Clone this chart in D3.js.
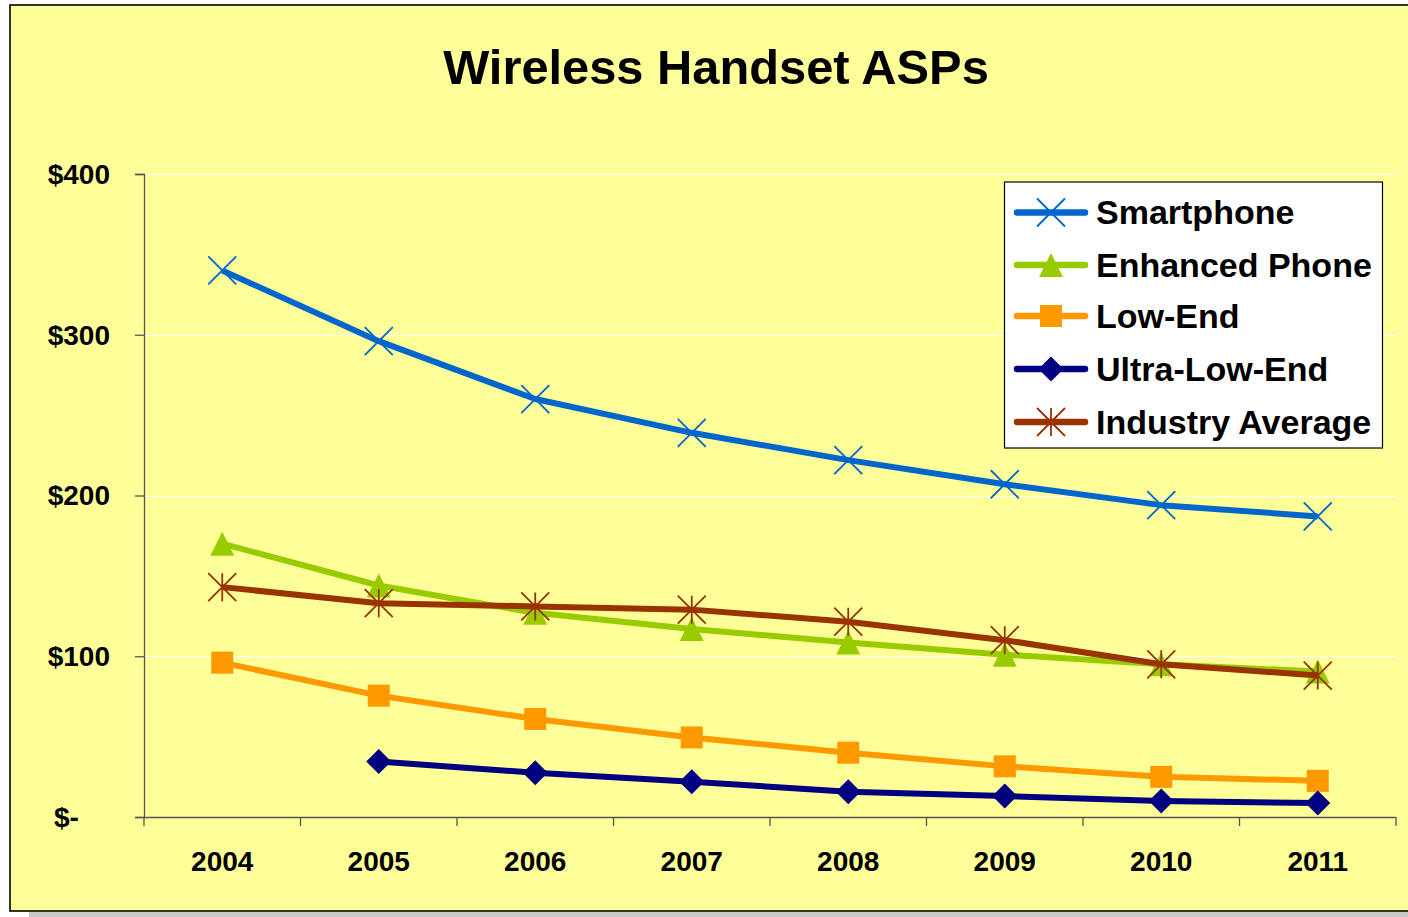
<!DOCTYPE html>
<html>
<head>
<meta charset="utf-8">
<script src="https://cdn.jsdelivr.net/npm/d3@7"></script>
<style>
  html, body { margin: 0; padding: 0; background: #ffffff; }
  svg { display: block; }
  text { font-family: "Liberation Sans", Arial, Helvetica, sans-serif; font-weight: bold; fill: #000; }
</style>
</head>
<body>
<svg id="chart" width="1408" height="917"></svg>
<script>
// Average selling prices by handset tier, US dollars
const years = ["2004", "2005", "2006", "2007", "2008", "2009", "2010", "2011"];
const smartphone    = [340, 296, 260, 239, 222, 207, 194, 187];
const enhancedPhone = [170, 144, 127, 117, 108.5, 101, 95, 90.5];
const lowEnd        = [96, 75.5, 61, 49.5, 40, 31.5, 25, 22.5];
const ultraLowEnd   = [null, 34.5, 27.5, 22, 15.7, 13, 10, 8.7];
const industryAvg   = [143, 133, 131, 129, 121.5, 110, 95, 88];
const yTicks = [0, 100, 200, 300, 400];
const yTickLabels = ["$-", "$100", "$200", "$300", "$400"];
const seriesNames = ["Smartphone", "Enhanced Phone", "Low-End", "Ultra-Low-End", "Industry Average"];

const series = [
  { name: seriesNames[0], values: smartphone,    color: "#0066CC", marker: "x" },
  { name: seriesNames[1], values: enhancedPhone, color: "#99CC00", marker: "triangle" },
  { name: seriesNames[2], values: lowEnd,        color: "#FF9900", marker: "square" },
  { name: seriesNames[3], values: ultraLowEnd,   color: "#000080", marker: "diamond" },
  { name: seriesNames[4], values: industryAvg,   color: "#993300", marker: "star" }
];
// drawing order: later ones on top
const drawOrder = [0, 1, 4, 2, 3];

const svg = d3.select("#chart");

// outer chart frame with drop shadow
svg.append("rect").attr("x", 29).attr("y", 912).attr("width", 1400).attr("height", 6).attr("fill", "#c8c8c8");
svg.append("rect").attr("x", 10).attr("y", 5).attr("width", 1420).attr("height", 906)
  .attr("fill", "#FFFF99").attr("stroke", "#000").attr("stroke-width", 1.6);

// title
svg.append("text").attr("x", 716).attr("y", 84).attr("text-anchor", "middle")
  .style("font-size", "48.8px").text("Wireless Handset ASPs");

const plot = { left: 144, right: 1396, top: 174, bottom: 817 };

const x = d3.scaleBand().domain(years).range([plot.left, plot.right]);
const y = d3.scaleLinear().domain([0, 400]).range([plot.bottom, plot.top]);

// horizontal gridlines
svg.append("g").selectAll("line").data(yTicks.filter(d => d > 0)).join("line")
  .attr("x1", plot.left).attr("x2", plot.right)
  .attr("y1", d => Math.round(y(d)) + 0.5).attr("y2", d => Math.round(y(d)) + 0.5)
  .attr("stroke", "#ffffff").attr("stroke-width", 1.2);

// y axis
const yAxis = d3.axisLeft(y).tickValues(yTicks).tickSize(9).tickPadding(25)
  .tickFormat((d, i) => yTickLabels[i]);
const gy = svg.append("g").attr("transform", `translate(${plot.left},0)`).call(yAxis);
gy.select(".domain").attr("stroke", "#555").attr("stroke-width", 1.3);
gy.selectAll(".tick line").attr("stroke", "#555").attr("stroke-width", 1.3);
gy.selectAll(".tick text").style("font-size", "28px").style("font-family", null)
  .attr("dy", "0.33em")
  // accounting format pads the zero dash by two digit widths
  .attr("dx", d => d === 0 ? -2 * 0.556 * 28 : 0);

// x axis with tick marks between categories
const gx = svg.append("g").attr("transform", `translate(0,${plot.bottom})`);
gx.append("line").attr("x1", plot.left).attr("x2", plot.right).attr("y1", 0.5).attr("y2", 0.5)
  .attr("stroke", "#555").attr("stroke-width", 1.3);
const boundaries = years.map(yr => x(yr)).concat([plot.right]);
gx.selectAll("line.tk").data(boundaries).join("line").attr("class", "tk")
  .attr("x1", d => d).attr("x2", d => d).attr("y1", 0).attr("y2", 9)
  .attr("stroke", "#555").attr("stroke-width", 1.3);
gx.selectAll("text").data(years).join("text")
  .attr("x", d => x(d) + x.bandwidth() / 2).attr("y", 54)
  .attr("text-anchor", "middle").style("font-size", "28px").text(d => d);

// marker drawing
function drawMarker(g, type, color, cx, cy) {
  if (type === "x") {
    const r = 14;
    g.append("path").attr("d", `M${cx - r},${cy - r}L${cx + r},${cy + r}M${cx - r},${cy + r}L${cx + r},${cy - r}`)
      .attr("stroke", color).attr("stroke-width", 1.8).attr("fill", "none");
  } else if (type === "star") {
    const r = 14;
    g.append("path").attr("d", `M${cx - r},${cy - r}L${cx + r},${cy + r}M${cx - r},${cy + r}L${cx + r},${cy - r}M${cx},${cy - r}L${cx},${cy + r}`)
      .attr("stroke", color).attr("stroke-width", 1.8).attr("fill", "none");
  } else if (type === "triangle") {
    const h = 12;
    g.append("path").attr("d", `M${cx},${cy - h}L${cx + h},${cy + h}L${cx - h},${cy + h}Z`)
      .attr("fill", color);
  } else if (type === "square") {
    const h = 11;
    g.append("rect").attr("x", cx - h).attr("y", cy - h).attr("width", 2 * h).attr("height", 2 * h)
      .attr("fill", color);
  } else if (type === "diamond") {
    const h = 12.5;
    g.append("path").attr("d", `M${cx},${cy - h}L${cx + h},${cy}L${cx},${cy + h}L${cx - h},${cy}Z`)
      .attr("fill", color);
  }
}

const line = d3.line()
  .defined(d => d.v !== null)
  .x(d => x(d.year) + x.bandwidth() / 2)
  .y(d => y(d.v));

const gSeries = svg.append("g");
drawOrder.forEach(i => {
  const s = series[i];
  const pts = years.map((yr, j) => ({ year: yr, v: s.values[j] }));
  const g = gSeries.append("g");
  g.append("path").datum(pts).attr("d", line)
    .attr("fill", "none").attr("stroke", s.color).attr("stroke-width", 6)
    .attr("stroke-linejoin", "round");
  pts.filter(p => p.v !== null).forEach(p => {
    drawMarker(g, s.marker, s.color, x(p.year) + x.bandwidth() / 2, y(p.v));
  });
});

// legend
const lg = svg.append("g");
lg.append("rect").attr("x", 1004.5).attr("y", 182).attr("width", 378).attr("height", 266)
  .attr("fill", "#ffffff").attr("stroke", "#000").attr("stroke-width", 1.2);
const legendY = [212.5, 265, 316, 369, 422];
series.forEach((s, i) => {
  const cy = legendY[i];
  lg.append("line").attr("x1", 1017).attr("x2", 1085).attr("y1", cy).attr("y2", cy)
    .attr("stroke", s.color).attr("stroke-width", 6.5).attr("stroke-linecap", "round");
  drawMarker(lg, s.marker, s.color, 1051, cy);
  lg.append("text").attr("x", 1096).attr("y", cy + 11.5).style("font-size", "34px").text(s.name);
});
</script>
</body>
</html>
